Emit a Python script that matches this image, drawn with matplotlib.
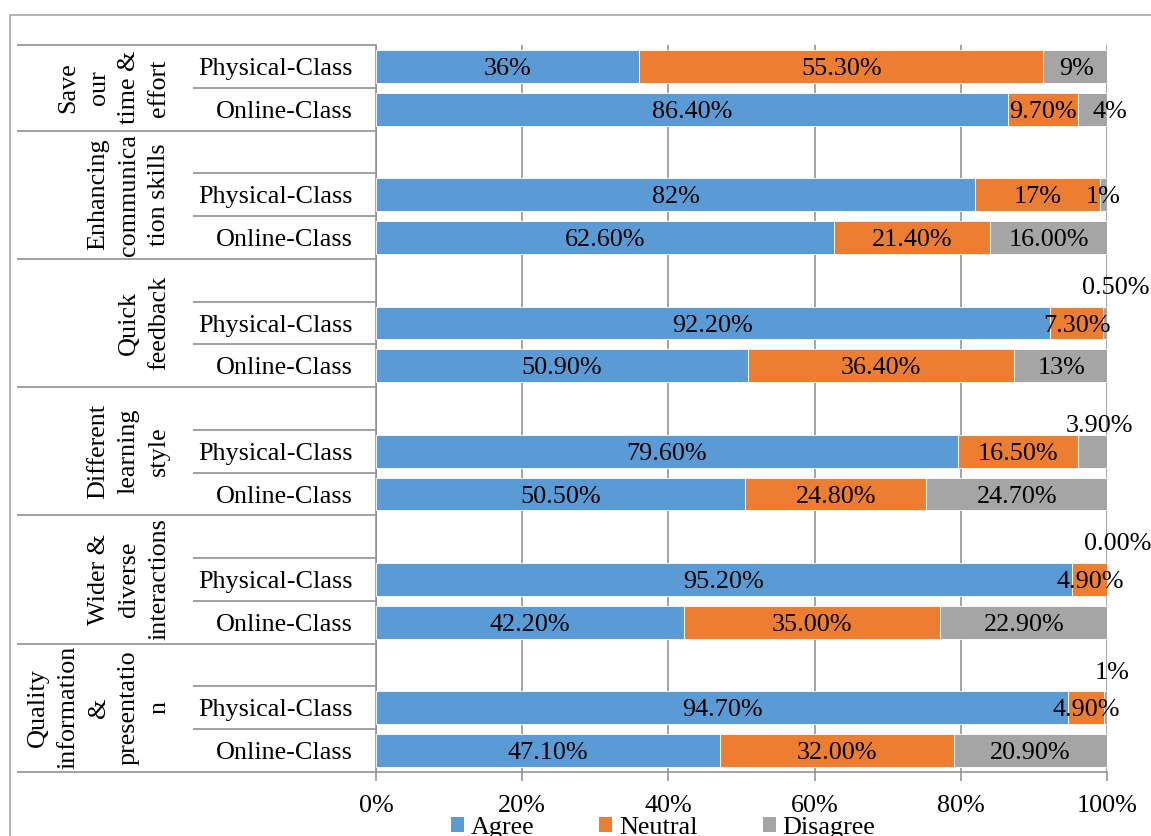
import matplotlib.pyplot as plt
from matplotlib.patches import Patch
from matplotlib.lines import Line2D

plt.rcParams['font.family'] = ['Liberation Serif', 'DejaVu Serif']

# ---- data -------------------------------------------------------------
groups = ["Save\nour\ntime &\neffort",
          "Enhancing\ncommunica\ntion skills",
          "Quick\nfeedback",
          "Different\nlearning\nstyle",
          "Wider &\ndiverse\ninteractions",
          "Quality\ninformation\n&\npresentatio\nn"]
has_blank = [False, True, True, True, True, True]
classes = ["Physical-Class", "Online-Class"]
series = ["Agree", "Neutral", "Disagree"]

physical_agree = [36, 82, 92.2, 79.6, 95.2, 94.7]
physical_neutral = [55.3, 17, 7.3, 16.5, 4.9, 4.9]
physical_disagree = [9, 1, 0.5, 3.9, 0.0, 1]
online_agree = [86.4, 62.6, 50.9, 50.5, 42.2, 47.1]
online_neutral = [9.7, 21.4, 36.4, 24.8, 35.0, 32.0]
online_disagree = [4, 16.0, 13, 24.7, 22.9, 20.9]

physical_labels = [["36%", "55.30%", "9%"], ["82%", "17%", "1%"],
                   ["92.20%", "7.30%", "0.50%"], ["79.60%", "16.50%", "3.90%"],
                   ["95.20%", "4.90%", "0.00%"], ["94.70%", "4.90%", "1%"]]
online_labels = [["86.40%", "9.70%", "4%"], ["62.60%", "21.40%", "16.00%"],
                 ["50.90%", "36.40%", "13%"], ["50.50%", "24.80%", "24.70%"],
                 ["42.20%", "35.00%", "22.90%"], ["47.10%", "32.00%", "20.90%"]]

colors = ["#5B9BD5", "#ED7D31", "#A5A5A5"]
gridcol = "#8c8c8c"
linecol = "#9a9a9a"
fs = 18.8
tdy = 0.06  # nudge text down a little, like Excel does

# ---- layout in pixels -------------------------------------------------
W, H = 1151, 836
L, R, T, B = 376, 1107, 45, 772

# rows, top to bottom
phys_rows, onl_rows, bounds, inner = [], [], [0], []
row = 0
for g in range(len(groups)):
    if has_blank[g]:
        row += 1
        inner.append(row)
    phys_rows.append(row)
    inner.append(row + 1)
    onl_rows.append(row + 1)
    row += 2
    bounds.append(row)
nrows = row

fig = plt.figure(figsize=(W / 100, H / 100), dpi=100)
ax = fig.add_axes([L / W, 1 - B / H, (R - L) / W, (B - T) / H])

ph = [physical_agree, physical_neutral, physical_disagree]
on = [online_agree, online_neutral, online_disagree]
yp = [r + 0.5 for r in phys_rows]
yo = [r + 0.5 for r in onl_rows]
lp = [0] * len(groups)
lo = [0] * len(groups)
# small disagree bits: Excel pushed these labels above the bar end
above = {2: (1.2, -0.88), 3: (-1.0, -0.66), 4: (1.4, -0.88), 5: (0.7, -0.88)}
for k in range(3):
    ax.barh(yp, ph[k], left=lp, height=0.77, color=colors[k],
            edgecolor="white", linewidth=0.6, zorder=3)
    ax.barh(yo, on[k], left=lo, height=0.77, color=colors[k],
            edgecolor="white", linewidth=0.6, zorder=3)
    for g in range(len(groups)):
        ph_x = lp[g] + ph[k][g] / 2
        ph_y = yp[g]
        if k == 2 and g in above:
            ph_x = min(lp[g] + ph[k][g], 100) + above[g][0]
            ph_y = yp[g] + above[g][1]
        ax.text(ph_x, ph_y + tdy, physical_labels[g][k],
                ha="center", va="center", fontsize=fs, zorder=5, clip_on=False)
        dxo = 2.3 if (k == 2 and g == 0) else 0
        ax.text(lo[g] + on[k][g] / 2 + dxo, yo[g] + tdy, online_labels[g][k],
                ha="center", va="center", fontsize=fs, zorder=5, clip_on=False)
        lp[g] += ph[k][g]
        lo[g] += on[k][g]

ax.set_xlim(0, 100)
ax.set_ylim(nrows, 0)
ax.set_xticks(range(0, 101, 20))
ax.set_xticklabels([f"{v}%" for v in range(0, 101, 20)])
ax.set_yticks([])
ax.xaxis.grid(True, color=gridcol, linewidth=1.1)
ax.set_axisbelow(True)
for s in ["top", "right"]:
    ax.spines[s].set_visible(False)
for s in ["left", "bottom"]:
    ax.spines[s].set_color(gridcol)
    ax.spines[s].set_linewidth(1.1)
ax.tick_params(axis="x", length=6.5, width=1.1, color=gridcol, pad=10,
               labelsize=fs)

# ---- category table on the left --------------------------------------
lab = fig.add_axes([17 / W, 1 - B / H, (L - 17) / W, (B - T) / H])
lab.set_xlim(17, L)
lab.set_ylim(nrows, 0)
lab.axis("off")
lab.hlines(bounds, 17, L, color=linecol, linewidth=1.3, clip_on=False)
lab.hlines(inner, 193, L, color=linecol, linewidth=1.3, clip_on=False)
for g in range(len(groups)):
    lab.text(170, (bounds[g] + bounds[g + 1]) / 2, groups[g], rotation=90,
             ha="right", va="center", multialignment="center",
             linespacing=1.48, fontsize=fs)
    lab.text(353, yp[g] + tdy, classes[0], ha="right", va="center", fontsize=fs)
    lab.text(353, yo[g] + tdy, classes[1], ha="right", va="center", fontsize=fs)

# ---- chart border and legend -----------------------------------------
fig.add_artist(Line2D([10 / W, 10 / W, 1], [0, 1 - 15 / H, 1 - 15 / H],
                      transform=fig.transFigure, color="#a6a6a6", linewidth=1.2))

handles = [Patch(facecolor=c) for c in colors]
fig.legend(handles, series, loc="center", bbox_to_anchor=(663 / W, 1 - 828 / H),
           ncol=3, frameon=False, fontsize=fs, handlelength=0.5,
           handleheight=0.5, handletextpad=0.25, columnspacing=2.5,
           borderpad=0, borderaxespad=0)

fig.savefig("out.png", dpi=100)
